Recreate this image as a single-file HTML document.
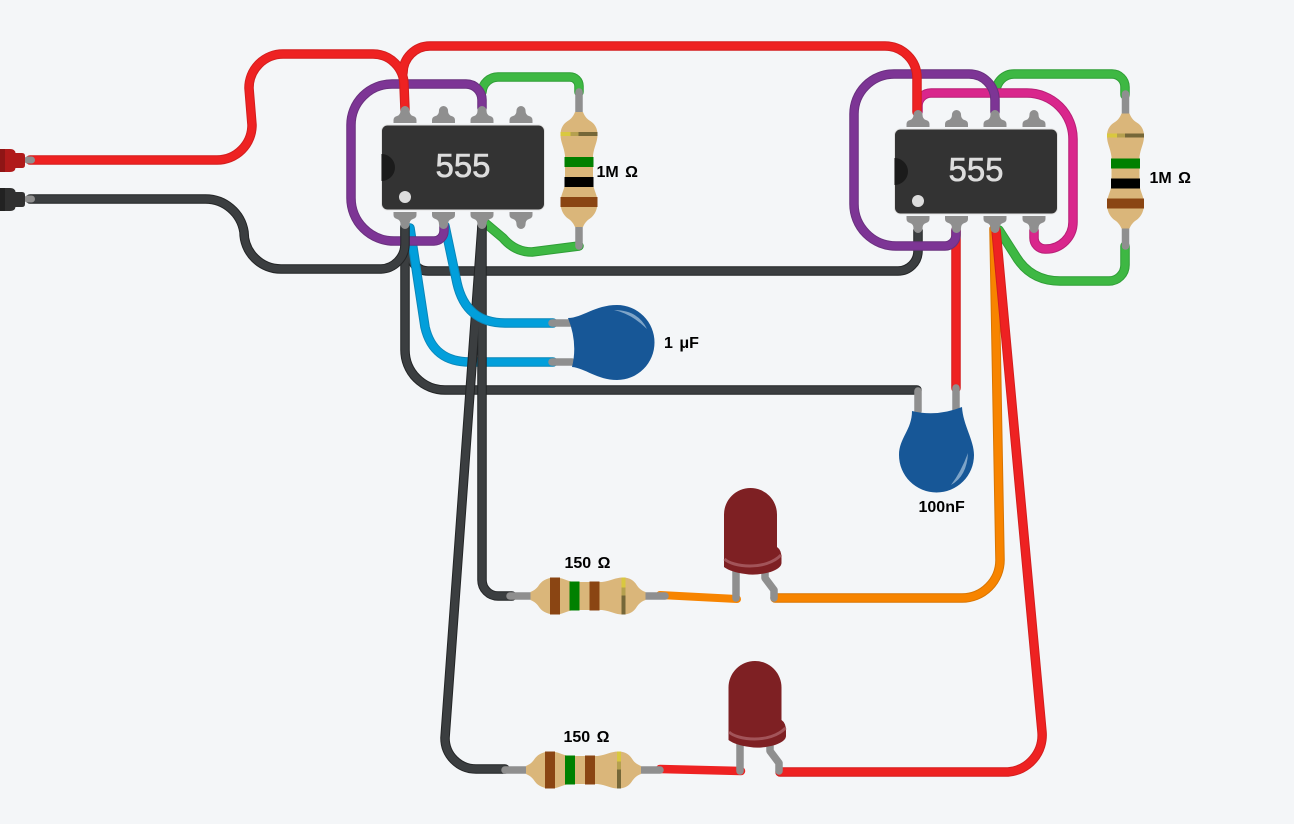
<!DOCTYPE html>
<html>
<head>
<meta charset="utf-8">
<style>
html,body{margin:0;padding:0;background:#f4f6f8;width:1294px;height:824px;overflow:hidden}
svg{display:block}
.w{fill:none;stroke-linecap:round;stroke-linejoin:round}
.t{font-family:"Liberation Sans",sans-serif;font-weight:700;font-size:16px;word-spacing:2px;fill:#000}
.ic{font-family:"Liberation Sans",sans-serif;font-size:33px;fill:#ddd;stroke:#ddd;stroke-width:.6px;text-anchor:middle}
.l{fill:none;stroke:#8f8f8f;stroke-width:7.500;stroke-linecap:round;stroke-linejoin:round}
</style>
</head>
<body>
<svg width="1294" height="824" viewBox="0 0 1294 824" xmlns="http://www.w3.org/2000/svg">
<defs>
<path id="pin" fill="#8f8f8f" d="M-11.500 0V-3Q-11.500 -6 -8 -7Q-4.500 -8 -4.500 -12.500A4.500 4.500 0 0 1 4.500 -12.500Q4.500 -8 8 -7Q11.500 -6 11.500 -3V0Z"/>
<g id="resbody">
<path fill="#dab67a" d="M-4 -57.500H4C6 -52 9 -50 12 -48C15 -46 18.500 -42 18.500 -35C18.500 -27 15 -23 14 -14V14C15 22 18.500 25 18.500 33C18.500 42 14 47 11 49C8 51 6 53 4 57.500H-4C-6 53 -8 51 -11 49C-14 47 -18.500 42 -18.500 33C-18.500 25 -15 22 -14 14V-14C-15 -23 -18.500 -27 -18.500 -35C-18.500 -42 -15 -46 -12 -48C-9 -50 -6 -52 -4 -57.500Z"/>
<rect x="-18.500" y="-37.500" width="10" height="4" fill="#d9c83f"/>
<rect x="-8.500" y="-37.500" width="8" height="4" fill="#b5a04f"/>
<rect x="-0.500" y="-37.500" width="19" height="4" fill="#756738"/>
</g>
<g id="ic">
<rect x="0" y="0" width="163" height="85" rx="6" fill="#333" stroke="#e2e2e2" stroke-width="1"/>
<path d="M0 29A13.500 13.500 0 0 1 0 56Z" fill="#1b1b1b"/>
<circle cx="23.500" cy="72" r="6" fill="#ddd"/>
</g>
<g id="led">
<path fill="#7e2023" d="M-26.500 26.500A26.500 26.500 0 0 1 26.500 26.500V59Q31 62 31 70V75Q31 80 20 84Q5 88 -5 86Q-20 84 -26.500 79Z"/>
<path fill="none" stroke="#a25459" stroke-width="3" d="M-26 71C-18 79 15 83 30.500 67"/>
</g>
</defs>

<g class="w">
<!-- green wires -->
<g stroke="#2f9e36" stroke-width="9.500">
<path d="M482 92A16 16 0 0 1 498 77H570A9 9 0 0 1 579 86V92"/>
<path d="M484 222L503 238Q515 252 532 252L579 246"/>
<path d="M996 92A18 18 0 0 1 1014 74H1112A13 13 0 0 1 1125 87V95"/>
<path d="M1125 246V265A16 16 0 0 1 1109 281H1060Q1030 281 1015 255L999 230"/>
</g>
<g stroke="#3eb843" stroke-width="7.500">
<path d="M482 92A16 16 0 0 1 498 77H570A9 9 0 0 1 579 86V92"/>
<path d="M484 222L503 238Q515 252 532 252L579 246"/>
<path d="M996 92A18 18 0 0 1 1014 74H1112A13 13 0 0 1 1125 87V95"/>
<path d="M1125 246V265A16 16 0 0 1 1109 281H1060Q1030 281 1015 255L999 230"/>
</g>

<!-- dark lower layer -->
<g stroke="#232526" stroke-width="9.500">
<path d="M405 228V350A40 40 0 0 0 445 390H917"/>
<path d="M408 245Q411 271 428 271H898A20 20 0 0 0 918 251V230"/>
</g>
<g stroke="#3b3e40" stroke-width="7.500">
<path d="M405 228V350A40 40 0 0 0 445 390H917"/>
<path d="M408 245Q411 271 428 271H898A20 20 0 0 0 918 251V230"/>
</g>

<!-- blue 2 -->
<path stroke="#0a86b8" stroke-width="9.500" d="M410 228L425 327Q433 362 470 362H553"/>
<path stroke="#029fdb" stroke-width="7.500" d="M410 228L425 327Q433 362 470 362H553"/>

<!-- dark verticals -->
<g stroke="#232526" stroke-width="9.500">
<path d="M482 225V580A16 16 0 0 0 498 596H512"/>
<path d="M482 226L445 738A31 31 0 0 0 476 769H505"/>
</g>
<g stroke="#3b3e40" stroke-width="7.500">
<path d="M482 225V580A16 16 0 0 0 498 596H512"/>
<path d="M482 226L445 738A31 31 0 0 0 476 769H505"/>
</g>

<!-- blue 1 -->
<path stroke="#0a86b8" stroke-width="9.500" d="M445 226L457 283Q466 323 505 323H553"/>
<path stroke="#029fdb" stroke-width="7.500" d="M445 226L457 283Q466 323 505 323H553"/>

<!-- pink -->
<path stroke="#b81f76" stroke-width="9.500" d="M918 112V106A13 13 0 0 1 931 93H1027A46 46 0 0 1 1073 139V222A27 27 0 0 1 1046 249H1045A11 11 0 0 1 1034 238V230"/>
<path stroke="#d9268c" stroke-width="7.500" d="M918 112V106A13 13 0 0 1 931 93H1027A46 46 0 0 1 1073 139V222A27 27 0 0 1 1046 249H1045A11 11 0 0 1 1034 238V230"/>

<!-- red/orange right -->
<path stroke="#d97500" stroke-width="9.500" d="M994 229L1000 560A38 38 0 0 1 962 598H775"/>
<path stroke="#f78400" stroke-width="7.500" d="M994 229L1000 560A38 38 0 0 1 962 598H775"/>
<path stroke="#f78400" stroke-width="8" d="M660 595L737 599"/>
<path stroke="#d31d1d" stroke-width="9.500" d="M956 388V230"/>
<path stroke="#ee2222" stroke-width="7.500" d="M956 388V230"/>
<path stroke="#d31d1d" stroke-width="9.500" d="M996 230L1042 732A37 37 0 0 1 1008 772H780"/>
<path stroke="#ee2222" stroke-width="7.500" d="M996 230L1042 732A37 37 0 0 1 1008 772H780"/>
<path stroke="#ee2222" stroke-width="8.500" d="M660 769L741 771"/>

<!-- purple -->
<path stroke="#69307e" stroke-width="9.500" d="M995 112V100A26 26 0 0 0 969 74H894A40 40 0 0 0 854 114V204A42 42 0 0 0 896 246H945A11 11 0 0 0 956 235V230"/>
<path stroke="#7d3595" stroke-width="7.500" d="M995 112V100A26 26 0 0 0 969 74H894A40 40 0 0 0 854 114V204A42 42 0 0 0 896 246H945A11 11 0 0 0 956 235V230"/>
<path stroke="#69307e" stroke-width="9.500" d="M482 108V100A16 16 0 0 0 466 84H392A41 41 0 0 0 351 125V198A43 43 0 0 0 394 241H434A10 10 0 0 0 444 231V226"/>
<path stroke="#7d3595" stroke-width="7.500" d="M482 108V100A16 16 0 0 0 466 84H392A41 41 0 0 0 351 125V198A43 43 0 0 0 394 241H434A10 10 0 0 0 444 231V226"/>

<!-- dark on top -->
<path stroke="#232526" stroke-width="9.500" d="M30 199H205A39 39 0 0 1 244 232A37 37 0 0 0 281 269H380A25 25 0 0 0 405 244V226"/>
<path stroke="#3b3e40" stroke-width="7.500" d="M30 199H205A39 39 0 0 1 244 232A37 37 0 0 0 281 269H380A25 25 0 0 0 405 244V226"/>

<!-- red top -->
<g stroke="#d31d1d" stroke-width="9.500">
<path d="M403 73A27 27 0 0 1 430 46H885A32 32 0 0 1 917 78V112"/>
<path d="M30 160H217A35 35 0 0 0 252 125L249 88A34 34 0 0 1 283 54H373A31 31 0 0 1 404 85L405 110"/>
</g>
<g stroke="#ee2222" stroke-width="7.500">
<path d="M403 73A27 27 0 0 1 430 46H885A32 32 0 0 1 917 78V112"/>
<path d="M30 160H217A35 35 0 0 0 252 125L249 88A34 34 0 0 1 283 54H373A31 31 0 0 1 404 85L405 110"/>
</g>
</g>

<!-- battery connectors -->
<rect x="24" y="156.500" width="11" height="7" rx="3.500" fill="#8f8f8f"/>
<rect x="24" y="195.500" width="11" height="7" rx="3.500" fill="#8f8f8f"/>
<path d="M0 149H10Q15 149 15.500 153H22Q25 153 25 156V165Q25 168 22 168H15.500Q15 172 10 172H0Z" fill="#b01a1a"/>
<rect x="0" y="149" width="5" height="23" fill="#8e1515"/>
<path d="M0 188H10Q15 188 15.500 192H22Q25 192 25 195V204Q25 207 22 207H15.500Q15 211 10 211H0Z" fill="#303030"/>
<rect x="0" y="188" width="5" height="23" fill="#222"/>

<!-- IC 1 -->
<use href="#pin" transform="translate(405,123)"/>
<use href="#pin" transform="translate(443.500,123)"/>
<use href="#pin" transform="translate(482,123)"/>
<use href="#pin" transform="translate(521,123)"/>
<use href="#pin" transform="translate(405,212) scale(1,-1)"/>
<use href="#pin" transform="translate(443.500,212) scale(1,-1)"/>
<use href="#pin" transform="translate(482,212) scale(1,-1)"/>
<use href="#pin" transform="translate(521,212) scale(1,-1)"/>
<use href="#ic" transform="translate(381.500,125)"/>
<text class="ic" x="463" y="177">555</text>

<!-- IC 2 -->
<use href="#pin" transform="translate(918,127)"/>
<use href="#pin" transform="translate(956.500,127)"/>
<use href="#pin" transform="translate(995,127)"/>
<use href="#pin" transform="translate(1034,127)"/>
<use href="#pin" transform="translate(918,216) scale(1,-1)"/>
<use href="#pin" transform="translate(956.500,216) scale(1,-1)"/>
<use href="#pin" transform="translate(995,216) scale(1,-1)"/>
<use href="#pin" transform="translate(1034,216) scale(1,-1)"/>
<use href="#ic" transform="translate(894.500,129)"/>
<text class="ic" x="976" y="181">555</text>

<!-- resistor leads -->
<path class="l" d="M579 92V246"/>
<path class="l" d="M1125.500 94V246"/>
<path class="l" d="M510 596H665"/>
<path class="l" d="M505 770H660"/>

<!-- resistor 1 -->
<g transform="translate(579,169.500)">
<use href="#resbody"/>
<rect x="-14.500" y="-12.500" width="29" height="10" fill="#008000"/>
<rect x="-14.500" y="7.500" width="29" height="10" fill="#000"/>
<rect x="-18.500" y="27.500" width="37" height="10" fill="#8a4513"/>
</g>
<!-- resistor 2 -->
<g transform="translate(1125.500,171)">
<use href="#resbody"/>
<rect x="-14.500" y="-12.500" width="29" height="10" fill="#008000"/>
<rect x="-14.500" y="7.500" width="29" height="10" fill="#000"/>
<rect x="-18.500" y="27.500" width="37" height="10" fill="#8a4513"/>
</g>
<!-- resistor 3 -->
<g transform="translate(588,596) rotate(90)">
<use href="#resbody"/>
<rect x="-14.500" y="-11.500" width="29" height="10" fill="#8a4513"/>
<rect x="-14.500" y="8.500" width="29" height="10" fill="#008000"/>
<rect x="-18.500" y="28" width="37" height="10" fill="#8a4513"/>
</g>
<!-- resistor 4 -->
<g transform="translate(583.500,770) rotate(90)">
<use href="#resbody"/>
<rect x="-14.500" y="-11.500" width="29" height="10" fill="#8a4513"/>
<rect x="-14.500" y="8.500" width="29" height="10" fill="#008000"/>
<rect x="-18.500" y="28.500" width="37" height="10" fill="#8a4513"/>
</g>

<!-- cap 1 -->
<path class="l" d="M552 323H572"/>
<path class="l" d="M552 362H572"/>
<path fill="#175797" d="M568 318C582 318 595 305 617 305A37.500 37.500 0 0 1 617 380C597 380 585 368 572 367Q578 343 568 318Z"/>
<path fill="#7ea4c8" d="M614 310Q638 310 647 329Q632 314 614 310Z"/>

<!-- cap 2 -->
<path class="l" d="M918 391V411"/>
<path class="l" d="M956 388V410"/>
<path fill="#175797" d="M912 411Q937 417 962 407C963 425 974 440 974 455A37.500 37.500 0 0 1 899 455C899 438 912 430 912 411Z"/>
<path fill="#7ea4c8" d="M968 453Q967 476 951 485Q961 472 968 453Z"/>

<!-- LED 1 -->
<path class="l" d="M736 570V598"/>
<path class="l" d="M765 572V578L774 590V598"/>
<use href="#led" transform="translate(750.500,488)"/>
<!-- LED 2 -->
<path class="l" d="M740 744V771"/>
<path class="l" d="M770 745V751L779 763V771"/>
<use href="#led" transform="translate(755,661)"/>

<!-- labels -->
<text class="t" x="596.500" y="177">1M Ω</text>
<text class="t" x="1149.500" y="183">1M Ω</text>
<text class="t" x="564.500" y="568">150 Ω</text>
<text class="t" x="563.500" y="742">150 Ω</text>
<text class="t" x="664" y="348">1 μF</text>
<text class="t" x="918.500" y="512">100nF</text>
</svg>
</body>
</html>
